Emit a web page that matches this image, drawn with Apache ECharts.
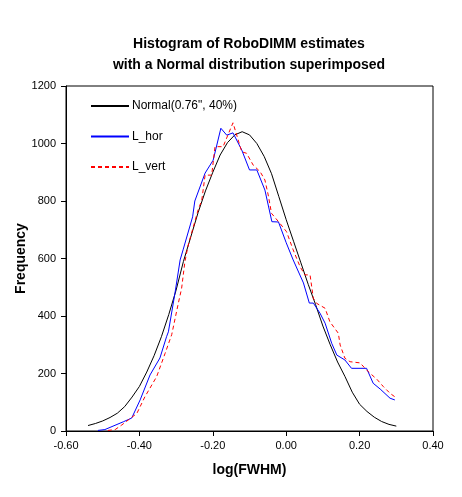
<!DOCTYPE html>
<html>
<head>
<meta charset="utf-8">
<script src="https://cdn.jsdelivr.net/npm/echarts@6/dist/echarts.min.js"></script>
<style>
html,body{margin:0;padding:0;background:#fff;}
#c{width:462px;height:497px;}
</style>
</head>
<body>
<div id="c"></div>
<script>
// Normal curve
var normX = [-0.54,-0.52,-0.50,-0.48,-0.46,-0.44,-0.42,-0.40,-0.38,-0.36,-0.34,-0.32,-0.30,-0.28,-0.26,-0.24,-0.22,-0.20,-0.18,-0.16,-0.14,-0.12,-0.10,-0.08,-0.06,-0.04,-0.02,0.00,0.02,0.04,0.06,0.08,0.10,0.12,0.14,0.16,0.18,0.20,0.22,0.24,0.26,0.28,0.30];
var normY = [19,26,35,47,62,85,118,155,205,262,328,405,490,590,675,760,835,900,960,1003,1030,1041,1030,1000,955,895,815,735,660,585,510,440,365,300,240,190,135,93,68,48,33,23,17];

// L_hor
var horX = [-0.513,-0.494,-0.444,-0.421,-0.398,-0.371,-0.344,-0.326,-0.321,-0.303,-0.289,-0.281,-0.255,-0.249,-0.221,-0.199,-0.178,-0.162,-0.145,-0.121,-0.100,-0.080,-0.058,-0.039,-0.021,0.000,0.019,0.047,0.063,0.074,0.092,0.106,0.124,0.138,0.160,0.178,0.219,0.237,0.256,0.283,0.296];
var horY = [2,5,32,45,108,195,254,328,345,480,595,630,745,800,897,942,1053,1029,1037,977,908,908,838,728,727,655,595,515,445,445,410,375,305,264,247,218,218,166,146,114,108];

// L_vert
var verX = [-0.486,-0.466,-0.448,-0.407,-0.385,-0.353,-0.330,-0.312,-0.294,-0.285,-0.276,-0.267,-0.240,-0.230,-0.221,-0.203,-0.194,-0.172,-0.145,-0.121,-0.108,-0.090,-0.071,-0.058,-0.049,-0.040,-0.017,0.001,0.019,0.038,0.051,0.065,0.074,0.083,0.106,0.119,0.142,0.147,0.160,0.174,0.201,0.224,0.247,0.265,0.283,0.296];
var verY = [2,5,21,61,119,189,270,335,444,496,589,647,769,803,890,890,989,989,1072,971,966,925,902,873,821,757,722,693,630,571,543,543,461,444,427,380,340,299,253,241,237,206,180,154,131,119];

// Axis ticks
var xMin = -0.6, xMax = 0.4, xStep = 0.2;
var yMin = 0, yMax = 1200, yStep = 200;

function pairs(xs, ys){ return xs.map(function(x,i){ return [x, ys[i]]; }); }

var FONT = 'Liberation Sans, Arial, sans-serif';
var chart = echarts.init(document.getElementById('c'), null, {renderer:'canvas'});
chart.setOption({
  animation:false,
  backgroundColor:'#ffffff',
  textStyle:{fontFamily:FONT,color:'#000'},
  title:{
    text:'Histogram of RoboDIMM estimates\nwith a Normal distribution superimposed',
    left:244, top:29, textAlign:'center',
    textStyle:{fontFamily:FONT,fontSize:14,fontWeight:'bold',color:'#000',lineHeight:21}
  },
  legend:{
    orient:'vertical', left:90, top:100, padding:0,
    itemWidth:38, itemHeight:10, itemGap:18.5,
    itemStyle:{opacity:0},
    textStyle:{fontFamily:FONT,fontSize:12,color:'#000',padding:[0,0,0,-2]},
    data:['Normal(0.76", 40%)','L_hor','L_vert']
  },
  grid:{left:66,right:29,top:86,bottom:66,show:true,borderColor:'#000',borderWidth:1,backgroundColor:'transparent'},
  xAxis:{
    type:'value', min:xMin, max:xMax, interval:xStep,
    name:'log(FWHM)', nameLocation:'middle', nameGap:32,
    nameTextStyle:{fontFamily:FONT,fontSize:14,fontWeight:'bold',color:'#000'},
    axisLine:{show:true,onZero:false,lineStyle:{color:'#000',width:1}},
    axisTick:{show:true,inside:false,length:5,lineStyle:{color:'#000'}},
    axisLabel:{color:'#000',fontFamily:FONT,fontSize:11,margin:9,formatter:function(v){return v.toFixed(2);}},
    splitLine:{show:false}
  },
  yAxis:{
    type:'value', min:yMin, max:yMax, interval:yStep,
    name:'Frequency', nameLocation:'middle', nameGap:38, nameMoveOverlap:false,
    nameTextStyle:{fontFamily:FONT,fontSize:14,fontWeight:'bold',color:'#000'},
    axisLine:{show:true,onZero:false,lineStyle:{color:'#000',width:1}},
    axisTick:{show:true,inside:false,length:5,lineStyle:{color:'#000'}},
    axisLabel:{color:'#000',fontFamily:FONT,fontSize:11,margin:10,formatter:function(v){return String(v);}},
    splitLine:{show:false}
  },
  series:[
    {name:'Normal(0.76", 40%)',type:'line',data:pairs(normX,normY),symbol:'none',smooth:false,
     lineStyle:{color:'#000',width:1},itemStyle:{color:'#000'}},
    {name:'L_hor',type:'line',data:pairs(horX,horY),symbol:'none',
     lineStyle:{color:'#0000ff',width:1},itemStyle:{color:'#0000ff'}},
    {name:'L_vert',type:'line',data:pairs(verX,verY),symbol:'none',
     lineStyle:{color:'#ff0000',width:1,type:[4,3]},itemStyle:{color:'#ff0000'}}
  ]
});
</script>
</body>
</html>
